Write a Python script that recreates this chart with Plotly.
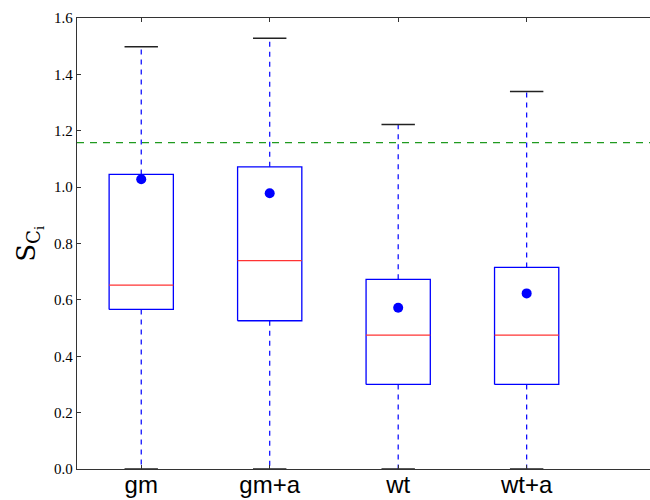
import plotly.graph_objects as go

categories = ["gm", "gm+a", "wt", "wt+a"]
q1 = [0.566, 0.526, 0.300, 0.300]
median = [0.652, 0.739, 0.475, 0.475]
q3 = [1.045, 1.072, 0.673, 0.715]
lower_whisker = [0.0, 0.0, 0.0, 0.0]
upper_whisker = [1.498, 1.528, 1.222, 1.339]
mean = [1.028, 0.978, 0.572, 0.623]
threshold = 1.158

y_ticks = [0.0, 0.2, 0.4, 0.6, 0.8, 1.0, 1.2, 1.4, 1.6]

BOX_HALF = 0.25
CAP_HALF = 0.13

fig = go.Figure()
positions = list(range(1, len(categories) + 1))

for i, pos in enumerate(positions):
    # whiskers (dashed blue)
    fig.add_trace(go.Scatter(
        x=[pos, pos, None, pos, pos],
        y=[q3[i], upper_whisker[i], None, q1[i], lower_whisker[i]],
        mode="lines", line=dict(color="#0000ff", width=1.2, dash="5px,5px"),
        hoverinfo="skip", showlegend=False))
    # caps
    fig.add_trace(go.Scatter(
        x=[pos - CAP_HALF, pos + CAP_HALF, None, pos - CAP_HALF, pos + CAP_HALF],
        y=[upper_whisker[i], upper_whisker[i], None, lower_whisker[i], lower_whisker[i]],
        mode="lines", line=dict(color="#222222", width=1.5),
        hoverinfo="skip", showlegend=False, cliponaxis=False))
    # box
    fig.add_trace(go.Scatter(
        x=[pos - BOX_HALF, pos + BOX_HALF, pos + BOX_HALF, pos - BOX_HALF, pos - BOX_HALF],
        y=[q1[i], q1[i], q3[i], q3[i], q1[i]],
        mode="lines", line=dict(color="#0000ff", width=1.3),
        hoverinfo="skip", showlegend=False))
    # median
    fig.add_trace(go.Scatter(
        x=[pos - BOX_HALF, pos + BOX_HALF],
        y=[median[i], median[i]],
        mode="lines", line=dict(color="#ff3333", width=1.3),
        hoverinfo="skip", showlegend=False))

# means
fig.add_trace(go.Scatter(
    x=positions, y=mean, mode="markers",
    marker=dict(color="#0000ff", size=10, line=dict(width=0)),
    showlegend=False))

# threshold line
fig.add_trace(go.Scatter(
    x=[0.5, 4.96], y=[threshold, threshold], mode="lines",
    line=dict(color="#1f9a1f", width=1.3, dash="7px,6px"),
    hoverinfo="skip", showlegend=False))

fig.update_layout(
    width=650, height=500,
    margin=dict(l=77, r=0, t=18, b=31, autoexpand=False),
    plot_bgcolor="white", paper_bgcolor="white",
    xaxis=dict(
        range=[0.5, 4.96], tickvals=positions, ticktext=categories,
        ticks="inside", ticklen=4, tickcolor="#333333",
        showline=True, linecolor="#333333", linewidth=1.3, mirror="ticks",
        showgrid=False, zeroline=False, automargin=False,
        ticklabelstandoff=-6,
        tickfont=dict(family="Liberation Sans, Arial", size=24, color="black"),
    ),
    yaxis=dict(
        range=[0, 1.6], tickvals=y_ticks, ticktext=[f"{v:.1f}" for v in y_ticks],
        ticks="inside", ticklen=4, tickcolor="#333333",
        showline=True, linecolor="#333333", linewidth=1.3, mirror=False,
        showgrid=False, zeroline=False, automargin=False,
        tickfont=dict(family="Liberation Serif", size=15, color="black"),
    ),
    annotations=[dict(
        text="S<sub>C<sub>i</sub></sub>", xref="paper", yref="paper",
        x=-0.085, y=0.5, xanchor="center", yanchor="middle", textangle=-90,
        showarrow=False, font=dict(family="DejaVu Serif", size=26, color="black"),
    )],
)

fig.write_html("out.html", config={"displayModeBar": False},
               post_script="document.body.style.margin='0';")
